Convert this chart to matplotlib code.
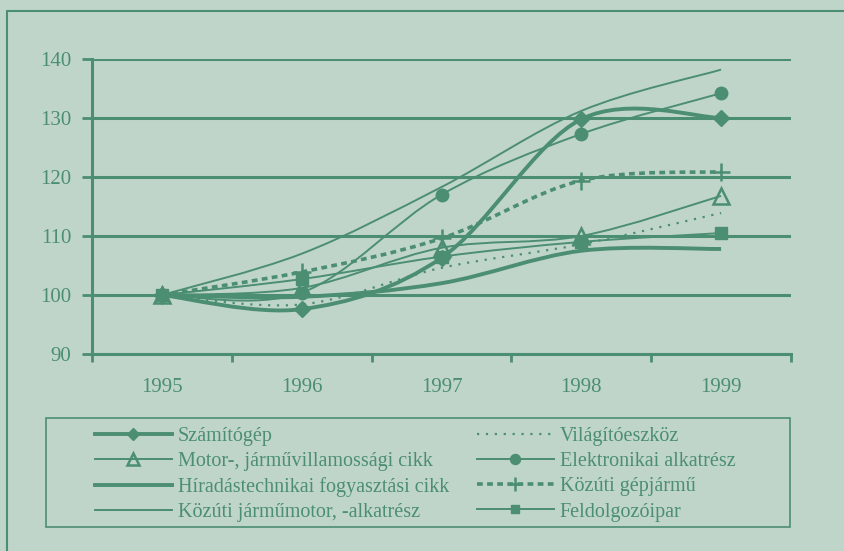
import numpy as np
import matplotlib.pyplot as plt
from matplotlib.path import Path
from matplotlib.patches import PathPatch, Rectangle
from matplotlib.lines import Line2D

years = ['1995', '1996', '1997', '1998', '1999']
szamitogep = [100, 97.6, 106.3, 129.8, 130.0]
motor = [100, 101.2, 108.0, 110.0, 116.8]
hiradas = [100, 99.7, 102.0, 107.5, 107.8]
kozuti_motor = [100, 107.0, 118.3, 131.2, 138.2]
vilagito = [100, 98.4, 104.6, 108.6, 113.9]
elektronikai = [100, 100.4, 117.0, 127.3, 134.2]
gepjarmu = [100, 103.9, 109.6, 119.4, 120.9]
feldolgozo = [100, 102.7, 106.5, 109.0, 110.5]

GREEN = '#4b8e72'
BG = '#c0d5ca'

plt.rcParams['font.family'] = 'Liberation Serif'
plt.rcParams['font.size'] = 15


def smooth_path(x, y):
    # excel-style smoothed line: cubic bezier with catmull-rom control points
    p = np.column_stack([x, y]).astype(float)
    n = len(p)
    verts = [p[0]]
    codes = [Path.MOVETO]
    for i in range(n - 1):
        p0 = p[i - 1] if i > 0 else p[i]
        p3 = p[i + 2] if i + 2 < n else p[i + 1]
        c1 = p[i] + (p[i + 1] - p0) / 6.0
        c2 = p[i + 1] - (p3 - p[i]) / 6.0
        verts += [c1, c2, p[i + 1]]
        codes += [Path.CURVE4] * 3
    return Path(verts, codes)


series = [
    ('Számítógép', szamitogep, dict(lw=2.8, ls='-', marker='D', ms=8, mfc=GREEN)),
    ('Motor-, járművillamossági cikk', motor, dict(lw=1.4, ls='-', marker='^', ms=11, mfc='none', mew=1.8)),
    ('Híradástechnikai fogyasztási cikk', hiradas, dict(lw=2.8, ls='-', marker=None)),
    ('Közúti járműmotor, -alkatrész', kozuti_motor, dict(lw=1.4, ls='-', marker=None)),
    ('Világítóeszköz', vilagito, dict(lw=1.6, ls=(0, (1, 3)), marker=None)),
    ('Elektronikai alkatrész', elektronikai, dict(lw=1.4, ls='-', marker='o', ms=9, mfc=GREEN)),
    ('Közúti gépjármű', gepjarmu, dict(lw=2.6, ls=(0, (1.6, 1.2)), marker='+', ms=13, mew=1.8)),
    ('Feldolgozóipar', feldolgozo, dict(lw=1.4, ls='-', marker='s', ms=8, mfc=GREEN)),
]

fig = plt.figure(figsize=(8.44, 5.51), dpi=100)
fig.patch.set_facecolor(BG)
ax = fig.add_axes([92 / 844, 1 - 354 / 551, 699 / 844, 295 / 551])
ax.set_facecolor(BG)

x = np.arange(len(years))
handles = []
for name, vals, st in series:
    patch = PathPatch(smooth_path(x, vals), fill=False, edgecolor=GREEN,
                      lw=st['lw'], ls=st['ls'], capstyle='butt', zorder=3)
    ax.add_patch(patch)
    if st.get('marker'):
        ax.plot(x, vals, ls='none', marker=st['marker'], ms=st['ms'],
                mfc=st.get('mfc', GREEN), mec=GREEN, mew=st.get('mew', 1.0),
                color=GREEN, zorder=4)
    h = Line2D([], [], color=GREEN, lw=st['lw'], ls=st['ls'],
               marker=st.get('marker'), ms=st.get('ms', 0) * 0.8,
               mfc=st.get('mfc', GREEN), mec=GREEN, mew=st.get('mew', 1.0))
    handles.append(h)

ax.set_xlim(-0.5, len(years) - 0.5)
ax.set_ylim(90, 140)
ax.set_yticks(np.arange(90, 141, 10))
ax.set_xticks(x)
ax.set_xticklabels(years)
ax.set_xticks(np.arange(-0.5, len(years)), minor=True)
ax.tick_params(axis='x', which='major', length=0, pad=17, colors=GREEN, labelcolor=GREEN)
ax.tick_params(axis='x', which='minor', length=6, width=2, direction='out', color=GREEN)
ax.tick_params(axis='y', length=7, width=2, direction='out', color=GREEN, labelcolor=GREEN, pad=8)
ax.grid(axis='y', color=GREEN, lw=2.2)
ax.set_axisbelow(True)
for s in ['top', 'right']:
    ax.spines[s].set_visible(False)
for s in ['left', 'bottom']:
    ax.spines[s].set_color(GREEN)
    ax.spines[s].set_linewidth(2.2)

# outer frame (right and bottom edges fall outside the picture)
fig.add_artist(Rectangle((7 / 844, -0.1), 1.0, 1.1 - 11 / 551, transform=fig.transFigure,
                         fill=False, edgecolor=GREEN, lw=1.5))
# legend frame
fig.add_artist(Rectangle((46 / 844, 1 - 527 / 551), 744 / 844, 109 / 551,
                         transform=fig.transFigure, fill=False, edgecolor=GREEN, lw=1.2))

leg = fig.legend(handles, [s[0] for s in series], ncol=2, frameon=False,
                 loc='upper left', bbox_to_anchor=(95 / 844, 1 - 427 / 551),
                 handlelength=3.8, handletextpad=0.3, columnspacing=1.4,
                 labelspacing=0.3, borderpad=0, borderaxespad=0, fontsize=14.5)
for t in leg.get_texts():
    t.set_color(GREEN)

fig.savefig('out.png', dpi=100, facecolor=BG)
